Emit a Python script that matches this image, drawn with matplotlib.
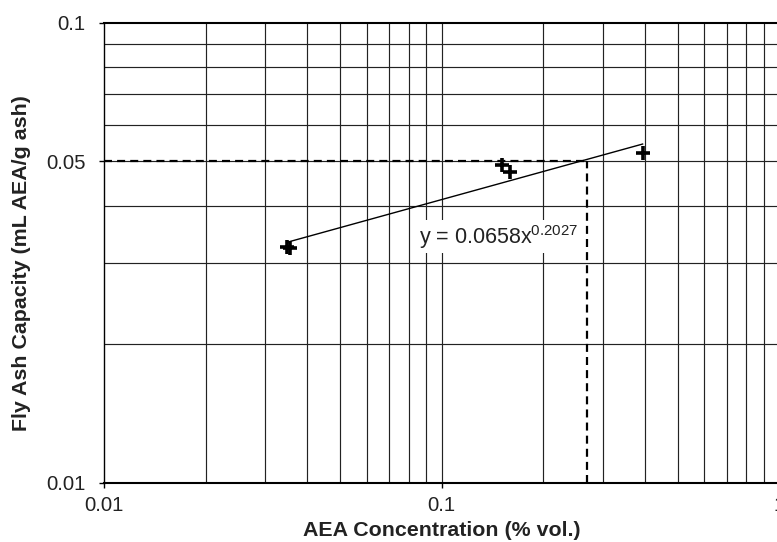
import numpy as np
import matplotlib
matplotlib.use("Agg")
import matplotlib.pyplot as plt
from matplotlib.ticker import LogLocator, FixedLocator, NullFormatter

plt.rcParams['font.family'] = ['Liberation Sans', 'DejaVu Sans']
plt.rcParams['mathtext.fontset'] = 'custom'
plt.rcParams['mathtext.rm'] = 'Liberation Sans'
plt.rcParams['mathtext.it'] = 'Liberation Sans'

# Measured AEA concentration (% vol.) and fly ash capacity (mL AEA / g ash)
aea_conc = [0.0347, 0.0355, 0.1506, 0.1594, 0.394]
ash_capacity = [0.0326, 0.0323, 0.0490, 0.0474, 0.0520]

# Power-law fit  y = a * x^b
fit_a = 0.0658
fit_b = 0.2027

target_capacity = 0.05
target_conc = 0.27

x_ticks = [0.01, 0.1, 1]
x_tick_labels = ['0.01', '0.1', '1']
y_ticks = [0.01, 0.05, 0.1]
y_tick_labels = ['0.01', '0.05', '0.1']

fig = plt.figure(figsize=(7.77, 5.42), dpi=100)
ax = fig.add_axes([0.1342, 0.1094, 0.8685, 0.8487])
ax.set_xscale('log')
ax.set_yscale('log')
ax.set_xlim(0.01, 1)
ax.set_ylim(0.01, 0.1)

# Grid on every decade sub-division
grid_kw = dict(color='#222222', linewidth=0.85, zorder=1)
for v in LogLocator(base=10, subs=np.arange(1, 10)).tick_values(0.01, 1):
    if 0.01 < v < 1:
        ax.axvline(v, **grid_kw)
for v in LogLocator(base=10, subs=np.arange(1, 10)).tick_values(0.01, 0.1):
    if 0.01 < v < 0.1:
        ax.axhline(v, **grid_kw)

# Fitted trend line over the measured range
xf = np.logspace(np.log10(min(aea_conc)), np.log10(max(aea_conc)), 50)
ax.plot(xf, fit_a * xf ** fit_b, color='black', linewidth=1.0, zorder=3)

# Data points
ax.plot(aea_conc, ash_capacity, linestyle='none', marker='+', markersize=10,
        markeredgewidth=2.6, color='black', zorder=4)

# Dashed read-off lines at the target capacity
dash_kw = dict(color='black', linewidth=1.6, dashes=(3.6, 2.3), zorder=3)
ax.plot([0.01, target_conc], [target_capacity, target_capacity], **dash_kw)
ax.plot([target_conc, target_conc], [0.01, target_capacity], **dash_kw)

ax.text(0.0857, 0.0331, r'y = %.4fx$^{%.4f}$' % (fit_a, fit_b),
        fontsize=15.5, ha='left', va='baseline', color='#222222', zorder=5,
        bbox=dict(facecolor='white', edgecolor='none', pad=2.0))

ax.xaxis.set_major_locator(FixedLocator(x_ticks))
ax.set_xticklabels(x_tick_labels)
ax.xaxis.set_minor_locator(FixedLocator([]))
ax.xaxis.set_minor_formatter(NullFormatter())
ax.yaxis.set_major_locator(FixedLocator(y_ticks))
ax.set_yticklabels(y_tick_labels)
ax.yaxis.set_minor_locator(FixedLocator([]))
ax.yaxis.set_minor_formatter(NullFormatter())
ax.tick_params(axis='both', direction='out', length=3.5, width=1.0,
               labelsize=14.7, colors='black', labelcolor='#222222')
ax.tick_params(axis='x', pad=6)
ax.tick_params(axis='y', pad=10)

for s in ['top', 'bottom']:
    ax.spines[s].set_linewidth(1.5)
ax.spines['left'].set_linewidth(1.0)
ax.spines['right'].set_linewidth(1.0)

ax.set_xlabel('AEA Concentration (% vol.)', fontsize=15.4, fontweight='bold',
              color='#222222', va='center')
ax.set_ylabel('Fly Ash Capacity (mL AEA/g ash)', fontsize=15.4,
              fontweight='bold', color='#222222', va='center')
ax.xaxis.set_label_coords(0.5, -0.103)
ax.yaxis.set_label_coords(-0.122, 0.478)

fig.savefig('out.png', dpi=100)
